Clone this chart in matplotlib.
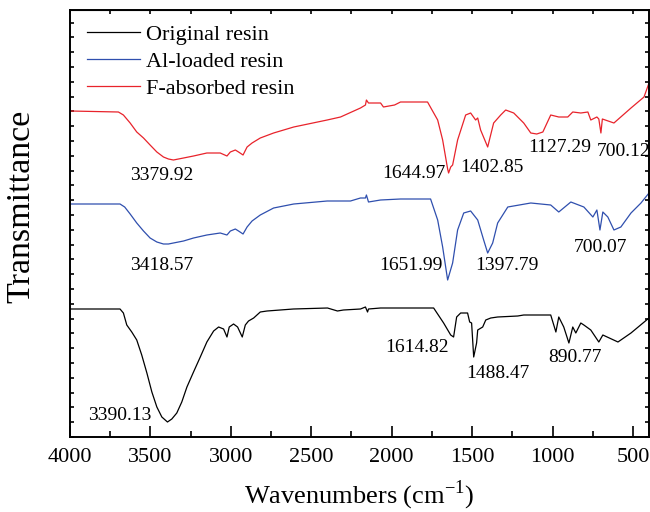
import numpy as np
import matplotlib
matplotlib.use("Agg")
import matplotlib.pyplot as plt
from matplotlib.ticker import MultipleLocator

plt.rcParams["font.family"] = "Liberation Serif"
plt.rcParams["mathtext.fontset"] = "custom"
plt.rcParams["mathtext.rm"] = "Liberation Serif"

# ---- spectra (wavenumber, transmittance in arbitrary offset units) ----
wn_orig = [4000, 3689, 3668, 3647, 3616, 3585, 3554, 3522, 3491, 3460, 3429, 3394, 3367,
           3336, 3305, 3273, 3232, 3190, 3149, 3107, 3076, 3045, 3024, 3010, 2983, 2958,
           2929, 2910, 2890, 2858, 2817, 2775, 2611, 2399, 2337, 2300, 2194, 2163, 2150,
           2144, 2069, 1739, 1677, 1633, 1615, 1596, 1571, 1528, 1515, 1503, 1490, 1472,
           1465, 1434, 1415, 1384, 1341, 1216, 1179, 1011, 979, 961, 930, 898, 874, 855,
           824, 805, 762, 712, 687, 593, 512, 400]
t_orig = [128, 128, 124, 112, 105, 97, 82, 64, 45, 30, 20, 15, 18,
          24, 35, 50, 65, 80, 95, 106, 110, 108, 100, 110, 113, 110,
          100, 112, 116, 119, 125, 126, 128, 129, 126, 127, 128, 130, 125,
          128, 129, 129, 114, 102, 100, 120, 124, 124, 115, 114, 80, 94,
          107, 110, 117, 119, 120, 121, 122, 122, 105, 120, 110, 94, 110, 104,
          114, 112, 107, 95, 102, 95, 104, 119]

wn_al = [4000, 3689, 3660, 3626, 3585, 3543, 3502, 3460, 3419, 3388, 3357, 3294, 3232,
         3149, 3066, 3024, 3003, 2972, 2952, 2924, 2899, 2868, 2817, 2734, 2609, 2401,
         2256, 2194, 2163, 2157, 2144, 2069, 1945, 1758, 1714, 1683, 1652, 1621, 1590,
         1552, 1509, 1465, 1428, 1403, 1372, 1341, 1278, 1135, 1011, 961, 886, 805, 749,
         724, 705, 687, 656, 618, 575, 512, 450, 400]
t_al = [233, 233, 230, 223, 214, 206, 199, 195, 193, 193, 194, 196, 199,
        202, 204, 202, 206, 208, 206, 203, 210, 216, 222, 229, 233, 236,
        236, 239, 239, 242, 235, 237, 238, 238, 217, 190, 157, 174, 207,
        224, 226, 217, 197, 184, 194, 214, 230, 234, 232, 225, 235, 230, 220,
        227, 207, 225, 220, 207, 210, 224, 234, 244]

wn_f = [4000, 3699, 3668, 3626, 3585, 3543, 3502, 3460, 3419, 3388, 3357, 3294, 3232,
        3149, 3066, 3024, 3003, 2972, 2952, 2924, 2899, 2868, 2817, 2734, 2609, 2401,
        2318, 2194, 2163, 2157, 2144, 2069, 2051, 1982, 1945, 1777, 1714, 1683, 1652,
        1646, 1633, 1621, 1590, 1540, 1509, 1478, 1465, 1447, 1403, 1366, 1322, 1291,
        1241, 1179, 1135, 1098, 1060, 1011, 961, 905, 874, 824, 780, 762, 724, 712, 699,
        690, 618, 512, 431, 400]
t_f = [326, 325, 322, 314, 305, 299, 292, 285, 280, 278, 277, 279, 281,
       284, 284, 281, 285, 287, 285, 282, 290, 294, 299, 304, 310, 317,
       320, 329, 332, 337, 334, 334, 330, 332, 335, 335, 317, 297, 268,
       264, 270, 272, 297, 322, 324, 317, 319, 307, 290, 314, 322, 327,
       324, 314, 304, 303, 305, 322, 320, 320, 325, 324, 325, 317, 320, 318, 304,
       318, 314, 329, 340, 354]

# peak labels: text, wavenumber of left edge, vertical position
peak_txt = ["3379.92", "1644.97", "1402.85", "1127.29", "700.12",
            "3418.57", "1651.99", "1397.79", "700.07",
            "3390.13", "1614.82", "1488.47", "890.77"]
peak_wn = [3626, 2057, 1571, 1154, 724,
           3626, 2076, 1478, 867,
           3888, 2038, 1534, 1029]
peak_t = [261, 264, 270, 290, 285,
          172, 172, 171, 189,
          22, 89, 64, 80]

fig = plt.figure(figsize=(6.5, 5.12), dpi=100)
ax = fig.add_axes([70 / 650, 75 / 512, 579 / 650, 427 / 512])

ax.plot(wn_orig, t_orig, color="black", lw=0.9, label="Original resin")
ax.plot(wn_al, t_al, color="#2f4fae", lw=0.9, label="Al-loaded resin")
ax.plot(wn_f, t_f, color="#e8232b", lw=0.9, label="F-absorbed resin")

for txt, w, t in zip(peak_txt, peak_wn, peak_t):
    ax.text(w, t, txt, fontsize=14, ha="left", va="center")

ax.set_xlim(4000, 400)
ax.set_ylim(0, 427)
ax.xaxis.set_major_locator(MultipleLocator(500))
ax.xaxis.set_minor_locator(MultipleLocator(250))
ax.yaxis.set_major_locator(MultipleLocator(14.8))
ax.tick_params(axis="x", which="major", direction="in", length=8, width=1.2,
               labelsize=16, pad=8)
ax.tick_params(axis="x", which="minor", direction="in", length=4, width=1.2)
ax.tick_params(axis="y", which="both", direction="in", length=3, width=1.2,
               left=True, right=True, labelleft=False)
for s in ax.spines.values():
    s.set_linewidth(1.4)

top = ax.secondary_xaxis("top")
top.xaxis.set_major_locator(MultipleLocator(250))
top.tick_params(direction="in", length=3, width=1.2, labeltop=False)

ax.set_xlabel(r"Wavenumbers (cm$^{\mathregular{-1}}$)", fontsize=19, labelpad=8)
ax.set_ylabel("Transmittance", fontsize=24.5)
ax.yaxis.set_label_coords(-0.058, 0.541)

ax.legend(loc="upper left", bbox_to_anchor=(0.029, 0.966), frameon=False,
          fontsize=16, handlelength=2.4, handletextpad=0.25, labelspacing=0.29,
          borderpad=0, borderaxespad=0)

plt.savefig("out.png", dpi=100)
